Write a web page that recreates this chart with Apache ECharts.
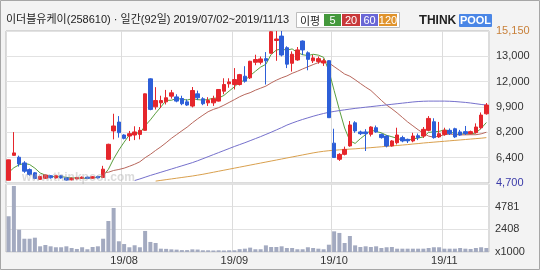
<!DOCTYPE html>
<html><head><meta charset="utf-8">
<script src="https://cdn.jsdelivr.net/npm/echarts@6/dist/echarts.min.js"></script>
<style>html,body{margin:0;padding:0;background:#fff}#c{width:540px;height:270px}</style>
</head><body><div id="c"></div>
<script>
const dates = ["19/07/02","19/07/03","19/07/04","19/07/05","19/07/08","19/07/09","19/07/10","19/07/11","19/07/12","19/07/15","19/07/16","19/07/17","19/07/18","19/07/19","19/07/22","19/07/23","19/07/24","19/07/25","19/07/26","19/07/29","19/07/30","19/07/31",
"19/08/01","19/08/02","19/08/05","19/08/06","19/08/07","19/08/08","19/08/09","19/08/12","19/08/13","19/08/14","19/08/16","19/08/19","19/08/20","19/08/21","19/08/22","19/08/23","19/08/26","19/08/27","19/08/28","19/08/29","19/08/30",
"19/09/02","19/09/03","19/09/04","19/09/05","19/09/06","19/09/09","19/09/10","19/09/11","19/09/16","19/09/17","19/09/18","19/09/19","19/09/20","19/09/23","19/09/24","19/09/25","19/09/26","19/09/27","19/09/30",
"19/10/01","19/10/02","19/10/04","19/10/07","19/10/08","19/10/10","19/10/11","19/10/14","19/10/15","19/10/16","19/10/17","19/10/18","19/10/21","19/10/22","19/10/23","19/10/24","19/10/25","19/10/28","19/10/29","19/10/30","19/10/31",
"19/11/01","19/11/04","19/11/05","19/11/06","19/11/07","19/11/08","19/11/11","19/11/12","19/11/13"];

const openP = [4890,6600,6470,6080,5620,5400,4950,5020,5200,5050,5200,5050,4920,4980,5020,5100,5030,5150,5080,6330,
8280,8890,8000,7930,8000,8040,8320,11860,9940,10210,10280,10670,10620,10510,10280,9990,10830,10490,10210,10210,
10330,11010,11520,11470,11470,12040,11930,13000,13000,13250,13620,14500,14800,14000,12930,13160,14460,13650,13100,13050,
12950,13110,7440,6330,6670,7250,8840,8210,8210,8050,8500,8040,7930,7250,7470,7820,7700,7590,7950,7930,
8320,8910,7870,8040,8320,8430,8210,8230,8100,8160,8500,9460];
const closeP = [6290,6770,6010,5510,5280,5010,5150,5250,5060,5200,5050,4900,5020,5080,5100,5020,5130,5050,5650,7360,
8620,8160,7770,8090,8210,8320,10830,9760,10370,10370,10560,10900,10330,10150,10060,11060,10560,10150,10370,10490,
11130,11470,11650,11810,12150,11700,13070,13190,13230,13100,15100,14600,13500,12870,13550,13850,13850,13200,13300,13250,
13100,9190,6450,6670,7010,8690,8280,8090,8090,8550,8210,7820,7250,7590,8000,7590,7600,7930,7820,8390,
9140,7820,8090,8320,8090,7870,8000,8100,8230,8550,9370,10060];
const lowP = [4880,6580,5830,5400,5200,4960,4920,4980,5000,5000,5000,4850,4880,4950,4980,4980,5000,5000,5050,6300,
7700,7820,7700,7590,7650,7700,8300,9700,9750,9850,10100,10500,10250,10050,10000,9900,10400,10050,10000,10000,
10300,10800,11250,11130,11400,11600,11850,12800,12850,11470,13600,13100,13400,12600,12360,13100,13500,12450,12950,12900,
12750,9190,6450,6220,6600,7200,8150,8000,6900,7900,8150,7750,7150,7200,7350,7500,7450,7500,7650,7800,
8250,7750,7800,7950,8000,7800,7950,8000,8050,8100,8400,9400];
const highP = [6300,8200,6580,6200,5700,5450,5200,5300,5250,5250,5250,5100,5080,5120,5150,5150,5180,5200,5880,7400,
9460,9300,8050,8280,8600,8550,10850,11900,11290,10700,11100,11100,10800,10700,10450,11300,11050,10600,10600,10700,
11150,11900,11900,12600,12200,12730,13100,13520,13400,13700,15150,15150,15150,14100,13750,14050,14500,13750,13500,13400,
13250,13150,8430,6750,7200,8960,8950,8300,8400,8600,8650,8100,8000,7650,8500,7950,7750,8150,8100,8550,
9300,9150,8900,8500,8450,8500,8350,8620,8300,8800,9550,10200];
const volumes = [3770,6960,2350,1400,1400,1510,600,740,600,500,500,600,420,320,500,290,530,600,1400,3270,
4640,1130,840,500,710,500,2220,1060,950,350,330,280,250,200,200,280,260,180,180,160,
180,160,180,180,300,350,460,290,290,700,530,530,600,420,420,290,290,500,420,350,
290,770,2180,2010,950,1690,700,530,600,530,600,420,500,530,350,350,350,350,350,350,
420,500,500,350,350,350,420,350,320,420,500,420];
const ma5 = [5420,5750,5950,6050,5970,5720,5390,5240,5150,5130,5140,5090,5050,5050,5030,5020,5070,5080,5190,5640,
6360,6970,7510,8000,8170,8110,8640,9040,9500,9930,10380,10390,10510,10460,10400,10500,10430,10400,10440,10530,
10540,10720,11020,11310,11640,11760,12080,12380,12670,12860,13540,13840,13910,13830,13920,13670,13520,13460,13550,13490,
13340,12410,11060,9730,8480,7600,7420,7750,8030,8340,8240,8150,7980,7880,7770,7650,7610,7740,7790,7870,
8180,8220,8250,8350,8290,8040,8070,8080,8060,8150,8450,8860];
const ma20 = [null,null,null,null,null,null,null,null,null,null,null,null,null,null,null,null,null,null,5420,5440,
5560,5630,5720,5850,5990,6160,6440,6670,6940,7190,7470,7770,8030,8290,8540,8840,9110,9360,9600,9760,
9880,10050,10240,10430,10630,10790,10910,11080,11220,11360,11580,11770,11930,12060,12240,12380,12540,12690,12840,12980,
13080,12960,12700,12450,12190,12040,11800,11540,11290,11060,10720,10380,10060,9800,9520,9210,8900,8630,8360,8120,
7920,7850,7930,8010,8070,8030,8010,8010,8020,8020,8080,8190];
const ma60 = [null,null,null,null,null,null,null,null,null,null,null,null,null,null,null,null,null,null,null,null,
null,null,null,null,4870,4980,5100,5220,5330,5440,5550,5660,5770,5880,5990,6100,6230,6370,6510,6650,
6790,6930,7070,7210,7340,7470,7610,7750,7890,8040,8190,8350,8510,8680,8820,8950,9070,9180,9290,9390,
9480,9560,9620,9680,9730,9780,9830,9870,9910,9950,9990,10030,10070,10110,10150,10190,10230,10270,10300,10320,
10330,10330,10330,10330,10320,10300,10270,10240,10200,10150,10100,10060];
const ma120 = [null,null,null,null,null,null,null,null,null,null,null,null,null,null,null,null,null,null,null,null,
null,null,null,null,null,null,null,null,4830,4880,4930,4980,5030,5080,5130,5180,5240,5300,5370,5440,
5510,5580,5650,5720,5790,5860,5930,6000,6070,6140,6210,6280,6350,6420,6490,6560,6630,6700,6770,6830,
6880,6920,6950,6980,7000,7030,7050,7080,7100,7130,7160,7190,7220,7250,7280,7310,7340,7380,7410,7450,
7480,7510,7540,7570,7600,7630,7660,7690,7720,7750,7780,7820];
const priceTicks = ["4,700","6,400","8,200","9,900","12,000","13,000","15,150"];
const volTicks = ["x1000","2408","4781",""];
const priceMin = 4700, priceMax = 15150;
const volMax = 7172;
const maNames = ["5","20","60","120"];
const maColors = ["#5a9e3e","#b8675c","#7570cc","#d9a04e"];
const titleText = '이더블유케이(258610) · 일간(92일) 2019/07/02~2019/11/13';

const isMonthStart = (i) => i > 0 && dates[i].slice(3,5) !== dates[i-1].slice(3,5);
const FONT = 'Arial, "Liberation Sans", sans-serif';

const chart = echarts.init(document.getElementById('c'), null, {renderer: 'canvas'});
const priceCats = priceTicks.map((t, i) => {
  if (i === priceTicks.length - 1) return {value: t, textStyle: {color: '#c8803a'}};
  if (i === 0) return {value: t, textStyle: {color: '#3a3aa8'}};
  return t;
});
const maSeries = [ma5, ma20, ma60, ma120].map((d, k) => ({
  name: 'MA' + maNames[k], type: 'line', xAxisIndex: 0, yAxisIndex: 0, data: d,
  symbol: 'none', smooth: false, connectNulls: false, clip: true, silent: true,
  lineStyle: {width: 1, color: maColors[k]}, z: 3
}));
const legendEls = [];
legendEls.push({type: 'rect', shape: {x: 296.5, y: 12.5, width: 103, height: 15}, style: {fill: '#fff', stroke: '#bdbdbd'}});
legendEls.push({type: 'text', x: 300, y: 20.5, style: {text: '이평', font: '11px "Noto Sans CJK KR"', fill: '#222', verticalAlign: 'middle'}});
const boxX = [324, 342, 361, 379], boxW = [17, 18, 17, 18];
const boxColors = ['#44983c', '#c8383a', '#6a67d6', '#e0932c'];
maNames.forEach((n, k) => {
  legendEls.push({type: 'rect', shape: {x: boxX[k], y: 14, width: boxW[k], height: 12}, style: {fill: boxColors[k]}});
  legendEls.push({type: 'text', x: boxX[k] + boxW[k] / 2, y: 20.5, style: {text: n, font: '11px ' + FONT, fill: '#fff', align: 'center', verticalAlign: 'middle'}});
});

chart.setOption({
  backgroundColor: '#f3f3f3',
  animation: false,
  grid: [
    {left: 6, top: 31, width: 483, height: 152, show: true, backgroundColor: '#fff', borderColor: '#b9b9b9', borderWidth: 1},
    {left: 6, top: 184, width: 483, height: 68, show: true, backgroundColor: '#fff', borderColor: '#b9b9b9', borderWidth: 1}
  ],
  xAxis: [
    {type: 'category', gridIndex: 0, data: dates, boundaryGap: true,
     axisLine: {show: false}, axisTick: {show: false}, axisLabel: {show: false},
     splitLine: {show: true, interval: (i) => isMonthStart(i), lineStyle: {color: '#dcdcdc', width: 1}}},
    {type: 'category', gridIndex: 1, data: dates, boundaryGap: true,
     axisLine: {show: false}, axisTick: {show: false},
     axisLabel: {show: true, interval: (i) => isMonthStart(i), formatter: (v) => v.slice(0, 5), margin: 3, fontSize: 11, color: '#333', fontFamily: FONT},
     splitLine: {show: true, interval: (i) => isMonthStart(i), lineStyle: {color: '#dcdcdc', width: 1}}}
  ],
  yAxis: [
    {type: 'value', gridIndex: 0, min: priceMin, max: priceMax, show: false, splitLine: {show: false}},
    {type: 'category', gridIndex: 0, position: 'right', data: priceCats, boundaryGap: false,
     axisLine: {show: false}, axisTick: {show: false},
     axisLabel: {interval: 0, margin: 7, fontSize: 11, color: '#333', fontFamily: FONT},
     splitLine: {show: true, interval: 0, lineStyle: {color: '#e2e2e2'}}},
    {type: 'value', gridIndex: 1, min: 0, max: volMax, show: false, splitLine: {show: false}},
    {type: 'category', gridIndex: 1, position: 'right', data: volTicks, boundaryGap: false,
     axisLine: {show: false}, axisTick: {show: false},
     axisLabel: {interval: 0, margin: 6, fontSize: 11, color: '#333', fontFamily: FONT},
     splitLine: {show: true, interval: 0, lineStyle: {color: '#e2e2e2'}}}
  ],
  series: [
    {type: 'candlestick', xAxisIndex: 0, yAxisIndex: 0, barWidth: 4, silent: true, z: 4,
     data: dates.map((d, i) => [openP[i], closeP[i], lowP[i], highP[i]]),
     itemStyle: {color: '#e5262c', color0: '#2d5fd8', borderColor: '#e5262c', borderColor0: '#2d5fd8', borderWidth: 1}},
    ...maSeries,
    {type: 'bar', xAxisIndex: 1, yAxisIndex: 2, data: volumes, barWidth: 4, silent: true,
     itemStyle: {color: '#a3aac0'}}
  ],
  graphic: [
    {type: 'rect', shape: {x: 0.5, y: 0.5, width: 539, height: 269}, style: {fill: 'none', stroke: '#a6a6a6'}, z: 100},
    {type: 'text', x: 6, y: 20, style: {text: titleText, font: '11px "Liberation Sans", "Noto Sans CJK KR"', fill: '#222', verticalAlign: 'middle'}},
    ...legendEls,
    {type: 'text', x: 419, y: 20.5, style: {text: '{a|T}{b|HINK}', rich: {a: {font: 'bold 13px ' + FONT, fill: '#222'}, b: {font: 'bold 12px ' + FONT, fill: '#222'}}, verticalAlign: 'middle'}},
    {type: 'rect', shape: {x: 459, y: 14, width: 33, height: 13, r: 1}, style: {fill: '#4a86e6'}},
    {type: 'text', x: 475.5, y: 20.5, style: {text: 'POOL', font: 'bold 11px ' + FONT, fill: '#fff', align: 'center', verticalAlign: 'middle'}},
    {type: 'text', x: 22, y: 178, style: {text: 'www.thinkpool.com', font: 'bold 12px ' + FONT, fill: 'rgba(175,175,175,0.45)', verticalAlign: 'middle'}, z: 50}
  ]
});
</script></body></html>
